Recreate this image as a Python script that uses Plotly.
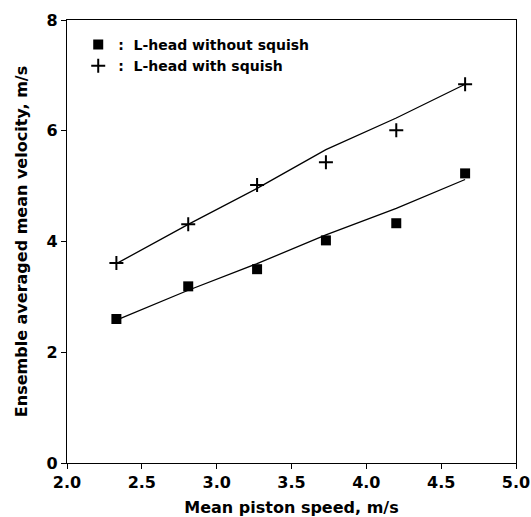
import plotly.graph_objects as go

piston_speed = [2.33, 2.81, 3.27, 3.73, 4.20, 4.66]
vel_without_squish = [2.60, 3.19, 3.50, 4.02, 4.33, 5.23]
vel_with_squish = [3.61, 4.31, 5.02, 5.43, 6.01, 6.84]
fit_without_squish = [2.58, 3.12, 3.60, 4.12, 4.60, 5.12]
fit_with_squish = [3.60, 4.31, 4.96, 5.66, 6.23, 6.84]

x_ticks = [2.0, 2.5, 3.0, 3.5, 4.0, 4.5, 5.0]
x_tick_text = ["2.0", "2.5", "3.0", "3.5", "4.0", "4.5", "5.0"]
y_ticks = [0, 2, 4, 6, 8]

FONT = "DejaVu Sans"

fig = go.Figure()
fig.add_trace(go.Scatter(x=piston_speed, y=fit_without_squish, mode="lines",
                         line=dict(color="black", width=1.3), showlegend=False))
fig.add_trace(go.Scatter(x=piston_speed, y=fit_with_squish, mode="lines",
                         line=dict(color="black", width=1.3), showlegend=False))
fig.add_trace(go.Scatter(x=piston_speed, y=vel_without_squish, mode="markers",
                         name=":  L-head without squish",
                         marker=dict(symbol="square", size=10, color="black")))
fig.add_trace(go.Scatter(x=piston_speed, y=vel_with_squish, mode="markers",
                         name=":  L-head with squish",
                         marker=dict(symbol="cross-thin", size=10, color="black",
                                     line=dict(color="black", width=2))))

axis_common = dict(showline=True, linecolor="black", linewidth=1.4, mirror=True,
                   ticks="outside", ticklen=5, tickwidth=1.2, tickcolor="black",
                   showgrid=False, zeroline=False, automargin=False,
                   tickfont=dict(family=FONT, size=16, color="black", weight="bold"))

fig.update_layout(
    width=531, height=517,
    margin=dict(l=67, r=15, t=20, b=54),
    paper_bgcolor="white", plot_bgcolor="white",
    font=dict(family=FONT, color="black"),
    xaxis=dict(range=[2.0, 5.0], tickvals=x_ticks, ticktext=x_tick_text,
               title=dict(text="Mean piston speed, m/s",
                          font=dict(family=FONT, size=16, color="black", weight="bold"),
                          standoff=12),
               **axis_common),
    yaxis=dict(range=[0, 8], tickvals=y_ticks,
               title=dict(text="Ensemble averaged mean velocity, m/s",
                          font=dict(family=FONT, size=16, color="black", weight="bold"),
                          standoff=14),
               **axis_common),
    legend=dict(x=0.025, y=0.98, xanchor="left", yanchor="top",
                bgcolor="rgba(0,0,0,0)", borderwidth=0,
                font=dict(family=FONT, size=14, color="black", weight="bold"),
                itemwidth=30, tracegroupgap=0),
)

fig.write_html(
    "out.html",
    config={"displayModeBar": False},
    post_script="document.body.style.margin='0';document.body.style.overflow='hidden';",
)
